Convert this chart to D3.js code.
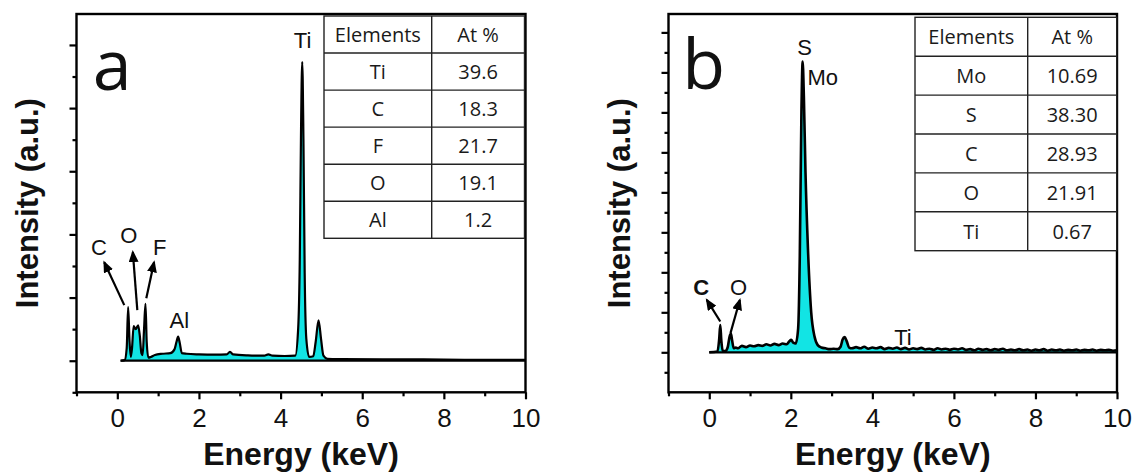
<!DOCTYPE html>
<html>
<head>
<meta charset="utf-8">
<script src="https://cdn.jsdelivr.net/npm/d3@7"></script>
<style>
  body { margin: 0; background: #fff; }
  svg { display: block; }
</style>
</head>
<body>
<div id="canvas"></div>
<script>
// ---- data (energy in keV, intensity in arbitrary units) ----
const energyA = [0.08, 0.18, 0.23, 0.265, 0.3, 0.33, 0.36, 0.4, 0.45, 0.51, 0.55, 0.59, 0.62, 0.655, 0.69, 0.72, 0.76, 0.82, 0.92,
  1.1, 1.3, 1.4, 1.45, 1.49, 1.53, 1.58, 1.7, 2.0, 2.4, 2.68, 2.76, 2.84, 3.2, 3.6, 3.7, 3.8, 4.1, 4.36, 4.43, 4.47, 4.5, 4.53,
  4.56, 4.59, 4.63, 4.7, 4.8, 4.86, 4.93, 4.99, 5.05, 5.15, 5.5, 6.5, 7.5, 8.5, 10];
const countsA = [0, 0.01, 0.2, 0.85, 0.3, 0.06, 0.2, 0.55, 0.5, 0.56, 0.4, 0.12, 0.09, 0.5, 0.9, 0.3, 0.05, 0.06, 0.09,
  0.11, 0.12, 0.18, 0.3, 0.38, 0.28, 0.12, 0.11, 0.1, 0.095, 0.1, 0.14, 0.1, 0.085, 0.08, 0.1, 0.08, 0.075, 0.08, 0.5, 1.6, 3.6, 4.73,
  3.5, 1.4, 0.35, 0.06, 0.07, 0.3, 0.64, 0.35, 0.08, 0.03, 0.025, 0.02, 0.02, 0.015, 0.015];

const energyB = [0, 0.2, 0.245, 0.27, 0.295, 0.33, 0.39, 0.45, 0.5, 0.53, 0.56, 0.6, 0.65, 0.7, 0.8, 0.9, 1.0, 1.1, 1.2, 1.3,
  1.4, 1.5, 1.6, 1.7, 1.8, 1.9, 1.96, 2.01, 2.06, 2.12, 2.18, 2.22, 2.26, 2.29, 2.32, 2.36, 2.42, 2.5, 2.58, 2.66, 2.75, 2.85,
  2.95, 3.05, 3.15, 3.22, 3.27, 3.32, 3.37, 3.43, 3.5,
  3.6, 3.7, 3.8, 3.9, 4.0, 4.1, 4.2, 4.3, 4.4, 4.5, 4.6, 4.7, 4.8, 4.9, 5.0, 5.1, 5.2, 5.3, 5.4, 5.5, 5.6, 5.7, 5.8, 5.9,
  6.0, 6.1, 6.2, 6.3, 6.4, 6.5, 6.6, 6.7, 6.8, 6.9, 7.0, 7.1, 7.2, 7.3, 7.4, 7.5, 7.6, 7.7, 7.8, 7.9,
  8.0, 8.1, 8.2, 8.3, 8.4, 8.5, 8.6, 8.7, 8.8, 8.9, 9.0, 9.1, 9.2, 9.3, 9.4, 9.5, 9.6, 9.7, 9.8, 9.9, 10.0];
const countsB = [0, 0.02, 0.35, 0.68, 0.3, 0.04, 0.03, 0.12, 0.4, 0.47, 0.3, 0.1, 0.12, 0.1, 0.16, 0.13, 0.17, 0.15, 0.18, 0.16,
  0.2, 0.17, 0.21, 0.18, 0.22, 0.2, 0.27, 0.31, 0.24, 0.22, 0.6, 2.4, 6.0, 7.27, 6.4, 4.5, 2.6, 1.0, 0.4, 0.18, 0.12, 0.1,
  0.08, 0.09, 0.08, 0.14, 0.32, 0.38, 0.28, 0.12, 0.1,
  0.13, 0.1, 0.14, 0.09, 0.12, 0.1, 0.13, 0.08, 0.11, 0.09, 0.12, 0.08, 0.11, 0.07, 0.1, 0.08, 0.11, 0.07, 0.09, 0.06, 0.1, 0.07, 0.09, 0.06,
  0.09, 0.07, 0.1, 0.06, 0.08, 0.05, 0.09, 0.06, 0.08, 0.05, 0.08, 0.06, 0.09, 0.05, 0.07, 0.05, 0.08, 0.05, 0.07, 0.04,
  0.07, 0.05, 0.08, 0.04, 0.07, 0.05, 0.07, 0.04, 0.06, 0.05, 0.07, 0.04, 0.06, 0.05, 0.07, 0.04, 0.06, 0.05, 0.06, 0.04, 0.05];

const xMajor = [0, 2, 4, 6, 8, 10];
const xMinor = [-1, 1, 3, 5, 7, 9];
const yMajorA = [0, 1, 2, 3, 4, 5];
const yMinorA = [-0.5, 0.5, 1.5, 2.5, 3.5, 4.5];
const yMajorB = [0, 1, 2, 3, 4, 5, 6, 7, 8];
const yMinorB = [-0.5, 0.5, 1.5, 2.5, 3.5, 4.5, 5.5, 6.5, 7.5];

const tableHeader = ["Elements", "At %"];
const elementsA = ["Ti", "C", "F", "O", "Al"];
const atPctA = ["39.6", "18.3", "21.7", "19.1", "1.2"];
const elementsB = ["Mo", "S", "C", "O", "Ti"];
const atPctB = ["10.69", "38.30", "28.93", "21.91", "0.67"];

// peak labels: [text, energy, intensity, anchor, bold]
const labelsA = [["Ti", 4.54, 4.95, "middle"], ["C", -0.45, 1.67, "middle"], ["O", 0.28, 1.86, "middle"],
  ["F", 1.04, 1.67, "middle"], ["Al", 1.52, 0.52, "middle"]];
const labelsB = [["S", 2.34, 7.43, "middle"], ["Mo", 2.41, 6.68, "start"], ["C", -0.2, 1.43, "middle", true],
  ["O", 0.72, 1.43, "middle"], ["Ti", 4.75, 0.18, "middle"]];
// arrows: [fromE, fromI, toE, toI]
const arrowsA = [[0.17, 0.88, -0.32, 1.56], [0.49, 0.8, 0.38, 1.72], [0.71, 0.99, 0.9, 1.56]];
const arrowsB = [[0.27, 0.77, -0.06, 1.31], [0.52, 0.48, 0.75, 1.31]];

const width = 1135, height = 475;
const svg = d3.select("#canvas").append("svg").attr("width", width).attr("height", height);

svg.append("defs").append("marker")
  .attr("id", "head")
  .attr("markerUnits", "userSpaceOnUse")
  .attr("viewBox", "0 0 12 10")
  .attr("refX", 10).attr("refY", 5)
  .attr("markerWidth", 12).attr("markerHeight", 10)
  .attr("orient", "auto")
  .append("path").attr("d", "M0,0 L12,5 L0,10 Z").attr("fill", "#000");

const panels = [
  { left: 76.5, right: 525.5, top: 14, bottom: 392.3, yMin: -0.5, yMax: 5.49,
    yMajor: yMajorA, yMinor: yMinorA, energy: energyA, counts: countsA, lineW: 2.2,
    labels: labelsA, arrows: arrowsA, letter: "a", letterE: -0.6, letterI: 4.28,
    elements: elementsA, atPct: atPctA,
    table: { x0: 324, x1: 431.7, x2: 524.5, y0: 16, y1: 238.3 },
    ylabelX: 38 },
  { left: 668.5, right: 1117, top: 14, bottom: 392.3, yMin: -1, yMax: 8.46,
    yMajor: yMajorB, yMinor: yMinorB, energy: energyB, counts: countsB, lineW: 2.6,
    labels: labelsB, arrows: arrowsB, letter: "b", letterE: -0.66, letterI: 6.58,
    elements: elementsB, atPct: atPctB,
    table: { x0: 915, x1: 1027.7, x2: 1116.7, y0: 17.3, y1: 250.7 },
    ylabelX: 630 }
];

const sans = "'Liberation Sans', Arial, sans-serif";
const tableFont = "'Open Sans', 'Noto Sans', sans-serif";

panels.forEach(function (p) {
  const x = d3.scaleLinear().domain([-1, 10]).range([p.left, p.right]);
  const y = d3.scaleLinear().domain([p.yMin, p.yMax]).range([p.bottom, p.top]);
  const g = svg.append("g");
  const pts = p.energy.map((e, i) => [e, p.counts[i]]);

  // filled spectrum
  const area = d3.area()
    .x(d => x(d[0]))
    .y0(y(0))
    .y1(d => y(d[1]))
    .curve(d3.curveMonotoneX);
  g.append("path").datum(pts).attr("d", area).attr("fill", "#12e4e4");

  // baseline
  g.append("line")
    .attr("x1", x(p.energy[0])).attr("x2", x(10))
    .attr("y1", y(0)).attr("y2", y(0))
    .attr("stroke", "#000").attr("stroke-width", 2.2);

  const line = d3.line()
    .x(d => x(d[0]))
    .y(d => y(d[1]))
    .curve(d3.curveMonotoneX);
  g.append("path").datum(pts).attr("d", line)
    .attr("fill", "none").attr("stroke", "#000").attr("stroke-width", p.lineW)
    .attr("stroke-linejoin", "round");

  // axes
  const xMaj = g.append("g").attr("transform", "translate(0," + p.bottom + ")")
    .call(d3.axisBottom(x).tickValues(xMajor).tickSize(7).tickSizeOuter(0).tickPadding(9).tickFormat(d3.format("d")));
  const xMin = g.append("g").attr("transform", "translate(0," + p.bottom + ")")
    .call(d3.axisBottom(x).tickValues(xMinor).tickSize(4).tickSizeOuter(0).tickFormat(""));
  const yMaj = g.append("g").attr("transform", "translate(" + p.left + ",0)")
    .call(d3.axisLeft(y).tickValues(p.yMajor).tickSize(7).tickSizeOuter(0).tickFormat(""));
  const yMin = g.append("g").attr("transform", "translate(" + p.left + ",0)")
    .call(d3.axisLeft(y).tickValues(p.yMinor).tickSize(4).tickSizeOuter(0).tickFormat(""));
  [xMaj, xMin, yMaj, yMin].forEach(function (a) {
    a.select(".domain").remove();
    a.selectAll(".tick line").attr("stroke", "#000").attr("stroke-width", 2.2);
  });
  xMaj.attr("font-size", 26).attr("font-family", sans);
  xMaj.selectAll(".tick text")
    .attr("font-family", sans).attr("font-size", 26).attr("fill", "#111");

  // frame
  g.append("rect")
    .attr("x", p.left).attr("y", p.top)
    .attr("width", p.right - p.left).attr("height", p.bottom - p.top)
    .attr("fill", "none").attr("stroke", "#000").attr("stroke-width", 2.4);

  // axis titles
  g.append("text")
    .attr("transform", "translate(" + p.ylabelX + "," + (p.top + p.bottom) / 2 + ") rotate(-90)")
    .attr("text-anchor", "middle")
    .attr("font-family", sans).attr("font-weight", "bold").attr("font-size", 31)
    .attr("fill", "#111")
    .text("Intensity (a.u.)");
  g.append("text")
    .attr("x", (p.left + p.right) / 2).attr("y", 465)
    .attr("text-anchor", "middle")
    .attr("font-family", sans).attr("font-weight", "bold").attr("font-size", 32)
    .attr("fill", "#111")
    .text("Energy (keV)");

  // panel letter
  g.append("text")
    .attr("x", x(p.letterE)).attr("y", y(p.letterI))
    .attr("font-family", tableFont).attr("font-size", 70).attr("fill", "#111")
    .text(p.letter);

  // peak labels
  g.selectAll("text.peak").data(p.labels).enter().append("text")
    .attr("class", "peak")
    .attr("x", d => x(d[1])).attr("y", d => y(d[2]))
    .attr("text-anchor", d => d[3])
    .attr("font-family", sans).attr("font-size", 22)
    .attr("font-weight", d => d[4] ? "bold" : "normal")
    .attr("fill", "#111")
    .text(d => d[0]);

  // arrows
  g.selectAll("line.arrow").data(p.arrows).enter().append("line")
    .attr("class", "arrow")
    .attr("x1", d => x(d[0])).attr("y1", d => y(d[1]))
    .attr("x2", d => x(d[2])).attr("y2", d => y(d[3]))
    .attr("stroke", "#000").attr("stroke-width", 2.2)
    .attr("marker-end", "url(#head)");

  // inset table
  const t = p.table;
  const rows = [tableHeader].concat(p.elements.map((e, i) => [e, p.atPct[i]]));
  const rowH = (t.y1 - t.y0) / rows.length;
  const tg = g.append("g");
  tg.append("rect").attr("x", t.x0).attr("y", t.y0)
    .attr("width", t.x2 - t.x0).attr("height", t.y1 - t.y0)
    .attr("fill", "#fff").attr("stroke", "#222").attr("stroke-width", 1.4);
  tg.append("line").attr("x1", t.x1).attr("x2", t.x1).attr("y1", t.y0).attr("y2", t.y1)
    .attr("stroke", "#222").attr("stroke-width", 1.4);
  rows.forEach(function (r, i) {
    if (i > 0) {
      tg.append("line").attr("x1", t.x0).attr("x2", t.x2)
        .attr("y1", t.y0 + i * rowH).attr("y2", t.y0 + i * rowH)
        .attr("stroke", "#222").attr("stroke-width", 1.4);
    }
    const cy = t.y0 + (i + 0.5) * rowH + 7.5;
    tg.append("text").attr("x", (t.x0 + t.x1) / 2).attr("y", cy)
      .attr("text-anchor", "middle").attr("font-family", tableFont).attr("font-size", 20)
      .attr("fill", "#1a1a1a").text(r[0]);
    tg.append("text").attr("x", (t.x1 + t.x2) / 2).attr("y", cy)
      .attr("text-anchor", "middle").attr("font-family", tableFont).attr("font-size", 20)
      .attr("fill", "#1a1a1a").text(r[1]);
  });
});
</script>
</body>
</html>
